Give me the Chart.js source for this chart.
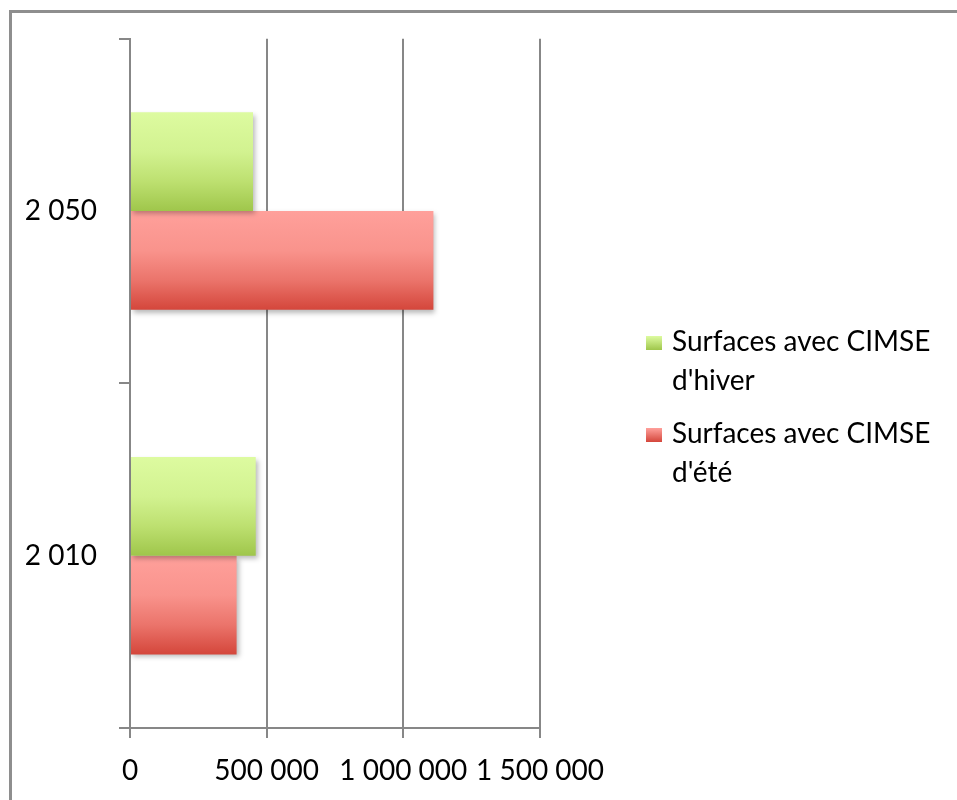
<!DOCTYPE html>
<html>
<head>
<meta charset="utf-8">
<script src="https://cdn.jsdelivr.net/npm/chart.js@4.4.1/dist/chart.umd.min.js"></script>
<style>
    html, body { margin: 0; padding: 0; background: #fff; }
    #wrap { width: 957px; height: 800px; }
</style>
</head>
<body>
<div id="wrap"><canvas id="chart" width="957" height="800"></canvas></div>
<script>
// ================== DATA ==================
const years = ['2 050', '2 010'];
const winterSurfaces = [450000, 460000];
const summerSurfaces = [1110000, 390000];
const seriesNames = ["Surfaces avec CIMSE d'hiver", "Surfaces avec CIMSE d'été"];
const legendLines = [["Surfaces avec CIMSE", "d'hiver"], ["Surfaces avec CIMSE", "d'été"]];
const xTicks = [0, 500000, 1000000, 1500000];

// ================== STYLE ==================
const FONT = 'Lato, "Open Sans", sans-serif';
const FONT_SIZE = 28;
const AXIS_GREY = '#878787';
const CAT_PCT = 0.573;
const greenStops = ['#ddfba0', '#d2f290', '#bde070', '#9fc64b'];
const redStops = ['#ffa09b', '#f9938c', '#eb746b', '#d4463b'];

const fmt = v => String(v).replace(/\B(?=(\d{3})+(?!\d))/g, ' ');

// vertical gradient matching the bar's own top/bottom
function barGradient(stops) {
    return (ctx) => {
        const chart = ctx.chart;
        if (!chart.chartArea || ctx.dataIndex === undefined) return stops[3];
        const yScale = chart.scales.y;
        const catH = yScale.height / years.length;
        const size = catH * CAT_PCT / 2;
        const center = yScale.getPixelForValue(ctx.dataIndex);
        const top = center - size + ctx.datasetIndex * size;
        const g = chart.ctx.createLinearGradient(0, top, 0, top + size);
        g.addColorStop(0, stops[0]);
        g.addColorStop(0.4, stops[1]);
        g.addColorStop(0.7, stops[2]);
        g.addColorStop(1, stops[3]);
        return g;
    };
}

// outer frame (only top and left edges are visible in the picture)
const framePlugin = {
    id: 'frame',
    beforeDraw(chart) {
        const c = chart.ctx;
        c.save();
        c.strokeStyle = '#8e8e8e';
        c.lineWidth = 3;
        c.beginPath();
        c.moveTo(10.5, 800);
        c.lineTo(10.5, 11.5);
        c.lineTo(957, 11.5);
        c.stroke();
        c.restore();
    }
};

// soft drop shadow under the bars
const shadowPlugin = {
    id: 'barShadow',
    beforeDatasetsDraw(chart) {
        const c = chart.ctx;
        c.save();
        c.shadowColor = 'rgba(0,0,0,0.28)';
        c.shadowBlur = 5;
        c.shadowOffsetX = 2;
        c.shadowOffsetY = 3;
    },
    afterDatasetsDraw(chart) {
        chart.ctx.restore();
    }
};

// legend with wrapped labels, right of the plot
const legendPlugin = {
    id: 'wrapLegend',
    afterDraw(chart) {
        const c = chart.ctx;
        const area = chart.chartArea;
        const boxX = area.right + 106;
        const textX = boxX + 26;
        const firstBase = 351;
        const itemGap = 92;
        const lineGap = 39;
        const palettes = [greenStops, redStops];
        c.save();
        c.font = FONT_SIZE + 'px ' + FONT;
        c.textBaseline = 'alphabetic';
        c.textAlign = 'left';
        legendLines.forEach((lines, i) => {
            const base = firstBase + i * itemGap;
            const g = c.createLinearGradient(0, base - 15, 0, base - 1);
            g.addColorStop(0, palettes[i][0]);
            g.addColorStop(1, palettes[i][3]);
            c.fillStyle = g;
            c.fillRect(boxX, base - 15, 16, 14);
            c.fillStyle = '#000';
            lines.forEach((t, j) => c.fillText(t, textX, base + j * lineGap));
        });
        c.restore();
    }
};

new Chart(document.getElementById('chart'), {
    type: 'bar',
    data: {
        labels: years,
        datasets: [
            { label: seriesNames[0], data: winterSurfaces, backgroundColor: barGradient(greenStops) },
            { label: seriesNames[1], data: summerSurfaces, backgroundColor: barGradient(redStops) }
        ]
    },
    options: {
        indexAxis: 'y',
        responsive: false,
        animation: false,
        barPercentage: 1,
        categoryPercentage: CAT_PCT,
        layout: { padding: { left: 0, top: 37, right: 417, bottom: 0 } },
        plugins: { legend: { display: false }, tooltip: { enabled: false } },
        scales: {
            x: {
                type: 'linear',
                min: 0,
                max: 1500000,
                afterBuildTicks: s => { s.ticks = xTicks.map(v => ({ value: v })); },
                afterFit: s => { s.height = 72; },
                grid: { color: AXIS_GREY, lineWidth: 2, tickLength: 10 },
                border: { color: AXIS_GREY, width: 2 },
                ticks: {
                    color: '#000',
                    font: { family: FONT, size: FONT_SIZE },
                    padding: 16,
                    maxRotation: 0,
                    autoSkip: false,
                    callback: v => fmt(v)
                }
            },
            y: {
                type: 'category',
                offset: true,
                afterFit: s => { s.width = 130; },
                grid: { offset: true, drawOnChartArea: false, color: AXIS_GREY, lineWidth: 2, tickLength: 11 },
                border: { color: AXIS_GREY, width: 2 },
                ticks: { color: '#000', font: { family: FONT, size: FONT_SIZE }, padding: 22 }
            }
        }
    },
    plugins: [framePlugin, shadowPlugin, legendPlugin]
});
</script>
</body>
</html>
